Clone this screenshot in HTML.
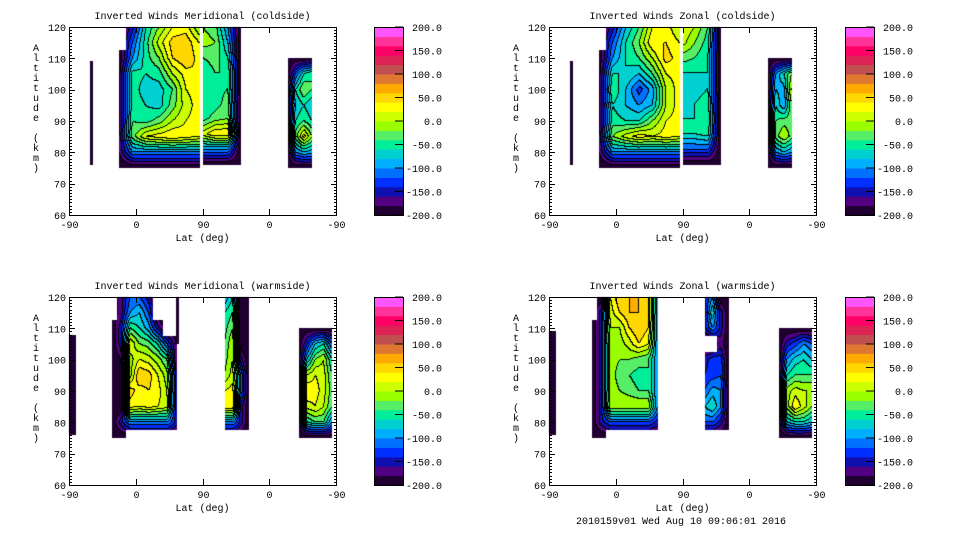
<!DOCTYPE html>
<html><head><meta charset="utf-8"><style>
body{margin:0;background:#fff;width:960px;height:540px;overflow:hidden;position:relative}
canvas,svg{position:absolute;left:0;top:0}
text{font-family:"Liberation Mono",monospace;font-size:10px;fill:#000}
</style></head><body>
<canvas id="cv" width="960" height="540"></canvas>
<svg id="sv" width="960" height="540"></svg>
<script>
// colour levels (bottom -> top), -200..200 step 20
const levelColors=["#200030","#500080","#1010b0","#0030ff","#0070ff","#00b0ff","#00d0d0","#00ee99","#55ee66","#99ff00","#ccff00","#ffff00","#ffd700","#ffaa00","#e07730","#c05050","#dd2255","#ff0066","#ff3399","#ff55ff"];
const cbTicks=[-200,-150,-100,-50,0,50,100,150,200];
const xTickLabels=["-90","0","90","0","-90"];
const yTicks=[60,70,80,90,100,110,120];
const titles=["Inverted Winds Meridional (coldside)","Inverted Winds Zonal (coldside)","Inverted Winds Meridional (warmside)","Inverted Winds Zonal (warmside)"];
const N=null;
// blocks: u (0..360 axis units), altitude range, value grid rows top->bottom
const panel1Blocks=[
 {u0:28,u1:32,a0:76,a1:109,g:[[-200,-200],[-200,-200]]},
 {u0:68,u1:176,a0:75,a1:120,g:[
 [N,-150,-60,-20,20,30,-20],[N,-120,-50,10,50,55,20],[-200,-100,-50,-20,40,60,30],[-190,-50,-60,-50,0,30,40],
 [-190,-50,-70,-70,-40,20,30],[-190,-50,-60,-70,-30,10,30],[-190,-40,-50,-30,0,20,30],[-180,-30,20,30,40,30,20],
 [-180,-100,-100,-100,-100,-100,-100],[-200,-200,-200,-200,-200,-200,-200]]},
 {u0:180,u1:232,a0:76,a1:120,g:[[-20,-30,-100,-200],[-10,-20,-80,-200],[-40,-30,-60,-200],[-60,-40,-40,-200],[-60,-50,-40,-200],
 [-60,-50,-30,-200],[-50,-30,-20,-200],[10,40,40,-200],[-100,-100,-100,-200],[-200,-200,-200,-200]]},
 {u0:295,u1:328,a0:75,a1:110,g:[[-200,-200,-200,-200],[-200,-120,-60,-40],[-200,-60,-20,-40],[-200,-80,-60,-80],[-200,-60,-40,-60],
 [-200,-30,30,-20],[-200,-100,-80,-90],[-200,-200,-200,-200]]}];
const panel2Blocks=[
 {u0:28,u1:32,a0:76,a1:109,g:[[-200,-200],[-200,-200]]},
 {u0:68,u1:176,a0:75,a1:120,g:[
 [N,-150,-80,-40,20,30,0],[N,-120,-60,-20,40,40,20],[-200,-100,-60,-40,0,50,30],[-190,-60,-60,-80,-40,20,30],
 [-190,-40,-80,-130,-90,0,30],[-190,-60,-80,-100,-80,0,30],[-190,-50,-60,-60,-20,20,30],[-180,-20,10,30,20,30,20],
 [-180,-100,-100,-100,-100,-100,-100],[-200,-200,-200,-200,-200,-200,-200]]},
 {u0:180,u1:232,a0:76,a1:120,g:[[20,0,-40,-200],[10,-20,-50,-200],[-30,-40,-60,-200],[-60,-60,-60,-200],[-70,-70,-60,-200],
 [-70,-60,-50,-200],[-60,-60,-40,-200],[-60,-60,-50,-200],[-120,-120,-120,-200],[-200,-200,-200,-200]]},
 {u0:295,u1:328,a0:75,a1:110,g:[[-200,-200,-200,-200],[-200,-100,-60,-20],[-200,-80,-90,10],[-200,-60,-100,-20],[-200,-40,-30,-30],
 [-200,-30,0,-30],[-200,-100,-80,-100],[-200,-200,-200,-200]]}];
const panel3Blocks=[
 {u0:0,u1:10,a0:76,a1:108,g:[[-190,-200,-190],[-190,-200,-190],[-190,-200,-190]]},
 {u0:58,u1:145,a0:75,a1:120,g:[
 [N,-170,-120,-120,-150,N,N,N],[N,-170,-100,-80,-120,N,N,N],[-200,-150,-40,-60,-90,-150,N,N],[-200,-150,20,-20,-30,-60,-120,-180],
 [-200,-180,-10,20,10,-10,-40,-180],[-200,-200,-10,60,50,20,-10,-150],[-200,-200,50,30,40,30,0,-150],[-200,-200,30,20,30,20,10,-150],
 [-200,-150,-100,-100,-100,-100,-100,-150],[-200,-200,N,N,N,N,N,N]]},
 {u0:144,u1:148,a0:105,a1:120,g:[[-200,-200],[-200,-200]]},
 {u0:210,u1:243,a0:75,a1:120,g:[[-100,-60,-200,-200],[-60,-40,-200,-200],[-50,-20,-200,-200],[-40,0,-200,-200],[-30,0,-150,-200],
 [-20,10,-100,-200],[20,30,-100,-200],[40,40,-150,-200],[-100,-100,-150,-200],[N,N,N,N]]},
 {u0:310,u1:355,a0:75,a1:110,g:[[-200,-200,-200,-200,-200],[-200,-140,-80,-60,-120],[-200,-80,-20,0,-60],[-200,0,20,10,-40],
 [-200,40,30,10,-30],[-200,10,20,0,-40],[-200,-60,-40,-40,-100],[-200,-200,-200,-200,-200]]}];
const panel4Blocks=[
 {u0:0,u1:10,a0:76,a1:109,g:[[-190,-200,-190],[-190,-200,-190],[-190,-200,-190]]},
 {u0:58,u1:147,a0:75,a1:120,g:[
 [N,-200,20,60,60,60,50,-100],[N,-150,10,40,60,60,50,-100],[-200,-150,0,0,40,60,40,-100],[-200,-150,-10,-10,10,40,20,-100],
 [-200,-150,-10,-20,-20,-30,-40,-100],[-200,-150,-10,-30,-40,-50,-40,-100],[-200,-150,-10,-20,-30,-40,-40,-100],[-200,-150,0,0,0,0,0,-100],
 [-200,-150,-120,-120,-120,-120,-120,-150],[-200,-200,N,N,N,N,N,N]]},
 {u0:210,u1:243,a0:75,a1:120,g:[[-150,-100,-200,-200],[-150,-60,-150,-200],[-150,-100,-150,-200],[N,N,-170,-200],[-150,-130,-130,-200],
 [-140,-130,-120,-200],[-120,-90,-100,-200],[-80,-60,-100,-200],[-120,-120,-150,-200],[N,N,N,N]]},
 {u0:310,u1:355,a0:75,a1:110,g:[[-200,-200,-200,-200,-200],[-200,-150,-130,-100,-120],[-200,-100,-70,-60,-80],[-200,-60,-40,-40,-40],
 [-200,-10,10,0,0],[-200,-10,40,10,-20],[-200,-80,-60,-60,-80],[-200,-200,-200,-200,-200]]}];
const allBlocks=[panel1Blocks,panel2Blocks,panel3Blocks,panel4Blocks];

const panels=[{x:69,y:27,cb:374},{x:549,y:27,cb:845},{x:69,y:297,cb:374},{x:549,y:297,cb:845}];
const W=267,H=188,CBW=29;
const NS="http://www.w3.org/2000/svg";
const sv=document.getElementById('sv');
const ctx=document.getElementById('cv').getContext('2d');
const lvl=new Int16Array(960*540).fill(-1);
function el(tag,attrs,parent,txt){const e=document.createElementNS(NS,tag);for(const k in attrs)e.setAttribute(k,attrs[k]);if(txt!=null)e.textContent=txt;(parent||sv).appendChild(e);return e;}
function levelOf(v){let i=Math.floor((v+200)/20);if(i<0)i=0;if(i>19)i=19;return i;}

panels.forEach((p,pi)=>{
 const xs=u=>p.x+u/360*W, ys=a=>p.y+(120-a)/60*H;
 allBlocks[pi].forEach(b=>{
  const nr=b.g.length,nc=b.g[0].length;
  const X0=Math.round(xs(b.u0)),X1=Math.round(xs(b.u1)),Y0=Math.round(ys(b.a1)),Y1=Math.round(ys(b.a0));
  for(let py=Y0;py<Y1;py++)for(let px=X0;px<X1;px++){
   const u=(px+0.5-p.x)/W*360,a=120-(py+0.5-p.y)/H*60;
   let fc=(u-b.u0)/(b.u1-b.u0)*(nc-1),fr=(b.a1-a)/(b.a1-b.a0)*(nr-1);
   fc=Math.max(0,Math.min(nc-1,fc));fr=Math.max(0,Math.min(nr-1,fr));
   if(b.g[Math.round(fr)][Math.round(fc)]===null)continue;
   const c0=Math.floor(fc),r0=Math.floor(fr),c1=Math.min(nc-1,c0+1),r1=Math.min(nr-1,r0+1),tx=fc-c0,ty=fr-r0;
   const g=(r,c)=>{const v=b.g[r][c];return v===null?-200:v;};
   const v=(g(r0,c0)*(1-tx)+g(r0,c1)*tx)*(1-ty)+(g(r1,c0)*(1-tx)+g(r1,c1)*tx)*ty;
   lvl[py*960+px]=levelOf(v);
  }
 });
});
// paint fills + contour lines between levels
for(let y=0;y<539;y++)for(let x=0;x<959;x++){
 const i=lvl[y*960+x];if(i<0)continue;
 const r=lvl[y*960+x+1],d=lvl[(y+1)*960+x];
 const edge=(r>=0&&r!==i)||(d>=0&&d!==i);
 ctx.fillStyle=edge?"#000":levelColors[i];ctx.fillRect(x,y,1,1);
}

panels.forEach((p,pi)=>{
 const ys=a=>p.y+(120-a)/60*H;
 const grp=el('g',{});
 
 
 const t=el('text',{x:p.x+W/2,y:p.y-8,'text-anchor':'middle'},grp,titles[pi]);
 
 
 const fr=el('rect',{x:p.x+0.5,y:p.y+0.5,width:W,height:H,fill:'none',stroke:'#000','stroke-width':1},grp);
 
 
 for(let a=60;a<=120;a++){const y=Math.round(ys(a))+0.5,L=(a%10===0)?6:3;
  el('line',{x1:p.x,x2:p.x+L,y1:y,y2:y,stroke:'#000'},grp);
  el('line',{x1:p.x+W+1,x2:p.x+W+1-L,y1:y,y2:y,stroke:'#000'},grp);}
 yTicks.forEach(a=>{const lb=el('text',{x:p.x-3,y:ys(a)+4,'text-anchor':'end'},grp,String(a));
  
  });
 xTickLabels.forEach((s,i)=>{const x=Math.round(p.x+i*W/4)+0.5;
  el('line',{x1:x,x2:x,y1:p.y+H,y2:p.y+H-6,stroke:'#000'},grp);
  el('line',{x1:x,x2:x,y1:p.y,y2:p.y+6,stroke:'#000'},grp);
  const lb=el('text',{x:x,y:p.y+H+13,'text-anchor':'middle'},grp,s);
  
  });
 const xl=el('text',{x:p.x+W/2,y:p.y+H+26,'text-anchor':'middle'},grp,'Lat (deg)');
 
 
 const yl=el('text',{x:p.x-33,y:p.y+24,'text-anchor':'middle'},grp);
 
 
 "Altitude (km)".split('').forEach((ch,i)=>el('tspan',{x:p.x-33,y:p.y+24+i*10},yl,ch===' '?'\u00a0':ch));
 const cb=el('g',{},grp);
 
 
 levelColors.forEach((c,i)=>{el('rect',{x:p.cb,y:p.y+H-(i+1)*H/20,width:CBW,height:H/20+0.5,fill:c},cb);});
 el('rect',{x:p.cb+0.5,y:p.y+0.5,width:CBW,height:H,fill:'none',stroke:'#000'},cb);
 cbTicks.forEach(v=>{const y=p.y+H-(v+200)/400*H;
  el('line',{x1:p.cb+CBW,x2:p.cb+CBW-8,y1:y,y2:y,stroke:'#000'},cb);
  const lb=el('text',{x:p.cb+CBW+39,y:y+4,'text-anchor':'end'},cb,v.toFixed(1));
  
  });
});
const ft=el('text',{x:681,y:524,'text-anchor':'middle'},sv,'2010159v01 Wed Aug 10 09:06:01 2016');


</script>
</body></html>
